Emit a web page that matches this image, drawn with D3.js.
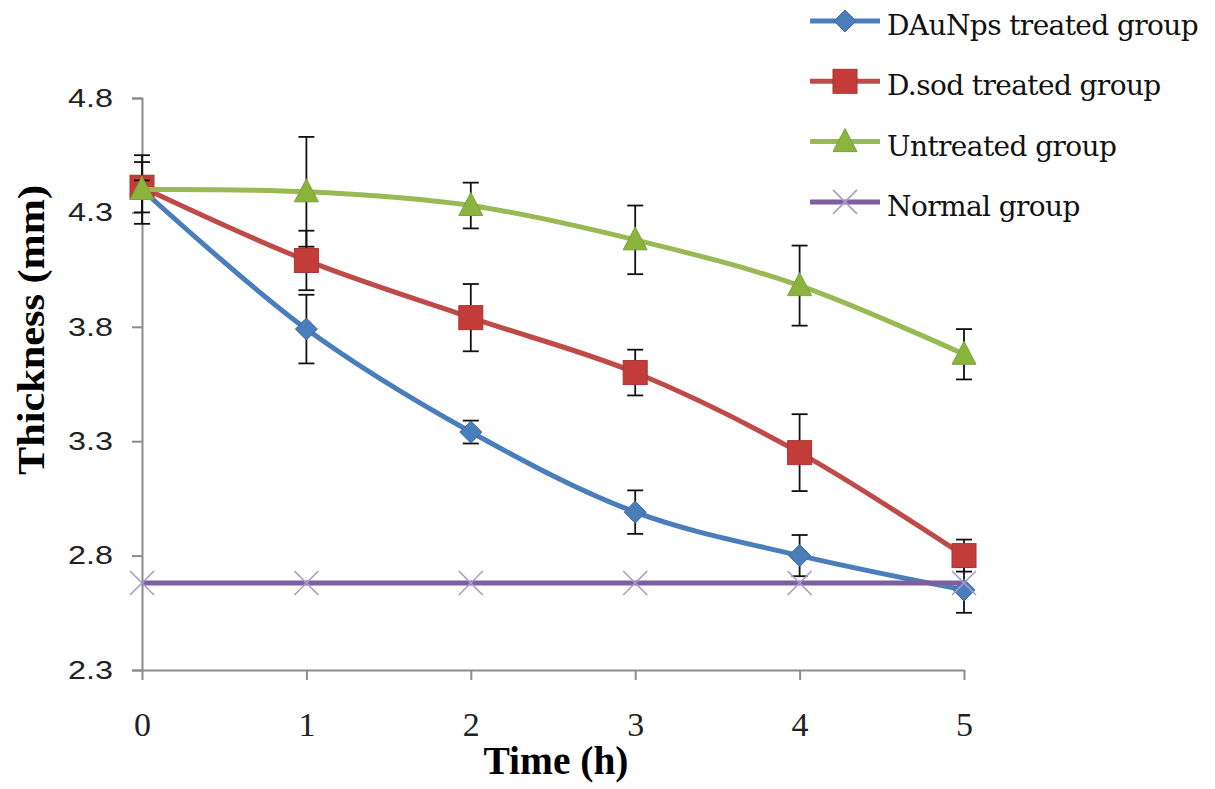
<!DOCTYPE html>
<html>
<head>
<meta charset="utf-8">
<script src="https://cdn.jsdelivr.net/npm/d3@7"></script>
<style>
  body { margin: 0; background: #fff; }
</style>
</head>
<body>
<div id="chart"></div>
<script>
const times = [0, 1, 2, 3, 4, 5];
const yTicks = [2.3, 2.8, 3.3, 3.8, 4.3, 4.8];
const seriesNames = ["DAuNps treated group", "D.sod treated group", "Untreated group", "Normal group"];
const dauNps = [4.40, 3.79, 3.34, 2.99, 2.80, 2.65];
const dauNpsErr = [0.15, 0.15, 0.05, 0.095, 0.09, 0.10];
const dSod = [4.41, 4.09, 3.84, 3.60, 3.25, 2.80];
const dSodErr = [0.11, 0.13, 0.147, 0.10, 0.168, 0.07];
const untreated = [4.40, 4.39, 4.33, 4.18, 3.98, 3.68];
const untreatedErr = [0.04, 0.24, 0.10, 0.15, 0.175, 0.11];
const normal = [2.68, 2.68, 2.68, 2.68, 2.68, 2.68];

const W = 1215, H = 789;
const svg = d3.select("#chart").append("svg").attr("width", W).attr("height", H);

const x = d3.scaleLinear().domain([0, 5]).range([142, 964]);
const y = d3.scaleLinear().domain([2.3, 4.8]).range([670, 98]);

const axisColor = "#8c8c8c";

// y axis
const yAxis = svg.append("g").attr("transform", "translate(142,0)")
  .call(d3.axisLeft(y).tickValues(yTicks).tickFormat(d3.format(".1f")).tickSize(10).tickPadding(19));
yAxis.select(".domain").attr("stroke", axisColor).attr("stroke-width", 2);
yAxis.selectAll(".tick line").attr("stroke", axisColor).attr("stroke-width", 2);
yAxis.selectAll("text").attr("font-family", "Liberation Sans, Arial, sans-serif").attr("font-size", 26)
  .attr("fill", "#222").attr("textLength", 45).attr("lengthAdjust", "spacingAndGlyphs");

// x axis
const xAxis = svg.append("g").attr("transform", "translate(0,670)")
  .call(d3.axisBottom(x).tickValues(times).tickFormat(d3.format("d")).tickSize(10).tickSizeOuter(0).tickPadding(32));
xAxis.select(".domain").attr("stroke", axisColor).attr("stroke-width", 2);
xAxis.selectAll(".tick line").attr("stroke", axisColor).attr("stroke-width", 2);
xAxis.selectAll("text").attr("font-family", "Liberation Serif, Times New Roman, serif").attr("font-size", 34).attr("fill", "#222");

// axis titles
svg.append("text")
  .attr("transform", "translate(44,330) rotate(-90)")
  .attr("text-anchor", "middle")
  .attr("font-family", "Liberation Serif, Times New Roman, serif")
  .attr("font-weight", "bold").attr("font-size", 38)
  .attr("textLength", 290).attr("lengthAdjust", "spacingAndGlyphs")
  .text("Thickness (mm)");
svg.append("text")
  .attr("x", 556).attr("y", 774)
  .attr("text-anchor", "middle")
  .attr("font-family", "Liberation Serif, Times New Roman, serif")
  .attr("font-weight", "bold").attr("font-size", 40)
  .attr("textLength", 145).attr("lengthAdjust", "spacingAndGlyphs")
  .text("Time (h)");

const series = [
  { name: seriesNames[0], values: dauNps, err: dauNpsErr, color: "#4a7ebb", marker: "diamond" },
  { name: seriesNames[1], values: dSod, err: dSodErr, color: "#be4b48", marker: "square" },
  { name: seriesNames[2], values: untreated, err: untreatedErr, color: "#98b954", marker: "triangle" },
  { name: seriesNames[3], values: normal, err: null, color: "#7d5fa0", marker: "cross" }
];

const line = d3.line().x(d => x(d[0])).y(d => y(d[1])).curve(d3.curveCatmullRom.alpha(0.5));

function drawMarker(g, type, cx, cy, color) {
  if (type === "diamond") {
    g.append("path").attr("d", `M${cx},${cy - 11}L${cx + 11},${cy}L${cx},${cy + 11}L${cx - 11},${cy}Z`)
      .attr("fill", color).attr("stroke", "#3d6aa3").attr("stroke-width", 1);
  } else if (type === "square") {
    g.append("rect").attr("x", cx - 12).attr("y", cy - 12).attr("width", 24).attr("height", 24)
      .attr("fill", "#c43c3a").attr("stroke", "#a83532").attr("stroke-width", 1);
  } else if (type === "triangle") {
    g.append("path").attr("d", `M${cx},${cy - 13}L${cx + 12},${cy + 10}L${cx - 12},${cy + 10}Z`)
      .attr("fill", "#8ab43c").attr("stroke", "#7ba23a").attr("stroke-width", 1);
  } else {
    g.append("path").attr("d", `M${cx - 12},${cy - 12}L${cx + 12},${cy + 12}M${cx - 12},${cy + 12}L${cx + 12},${cy - 12}`)
      .attr("stroke", "#a89cc8").attr("stroke-width", 1.6).attr("fill", "none");
  }
}

series.forEach(s => {
  const g = svg.append("g");
  const pts = times.map((t, i) => [t, s.values[i]]);
  if (s.err) {
    pts.forEach((p, i) => {
      const e = s.err[i];
      const px = x(p[0]);
      g.append("line").attr("x1", px).attr("x2", px).attr("y1", y(p[1] + e)).attr("y2", y(p[1] - e))
        .attr("stroke", "#111").attr("stroke-width", 1.8);
      [p[1] + e, p[1] - e].forEach(v => {
        g.append("line").attr("x1", px - 8).attr("x2", px + 8).attr("y1", y(v)).attr("y2", y(v))
          .attr("stroke", "#111").attr("stroke-width", 1.8);
      });
    });
  }
  g.append("path").datum(pts).attr("d", line)
    .attr("fill", "none").attr("stroke", s.color).attr("stroke-width", 5);
  pts.forEach(p => drawMarker(g, s.marker, x(p[0]), y(p[1]), s.color));
});

// legend
const legend = svg.append("g");
series.forEach((s, i) => {
  const ly = 21 + i * 60.3;
  legend.append("line").attr("x1", 810).attr("x2", 880).attr("y1", ly).attr("y2", ly)
    .attr("stroke", s.color).attr("stroke-width", 5);
  drawMarker(legend, s.marker, 845, ly, s.color);
  legend.append("text").attr("x", 887).attr("y", ly + 14)
    .attr("font-family", "DejaVu Serif, serif").attr("font-size", 28).attr("fill", "#111")
    .attr("letter-spacing", -0.6)
    .text(s.name);
});
</script>
</body>
</html>
